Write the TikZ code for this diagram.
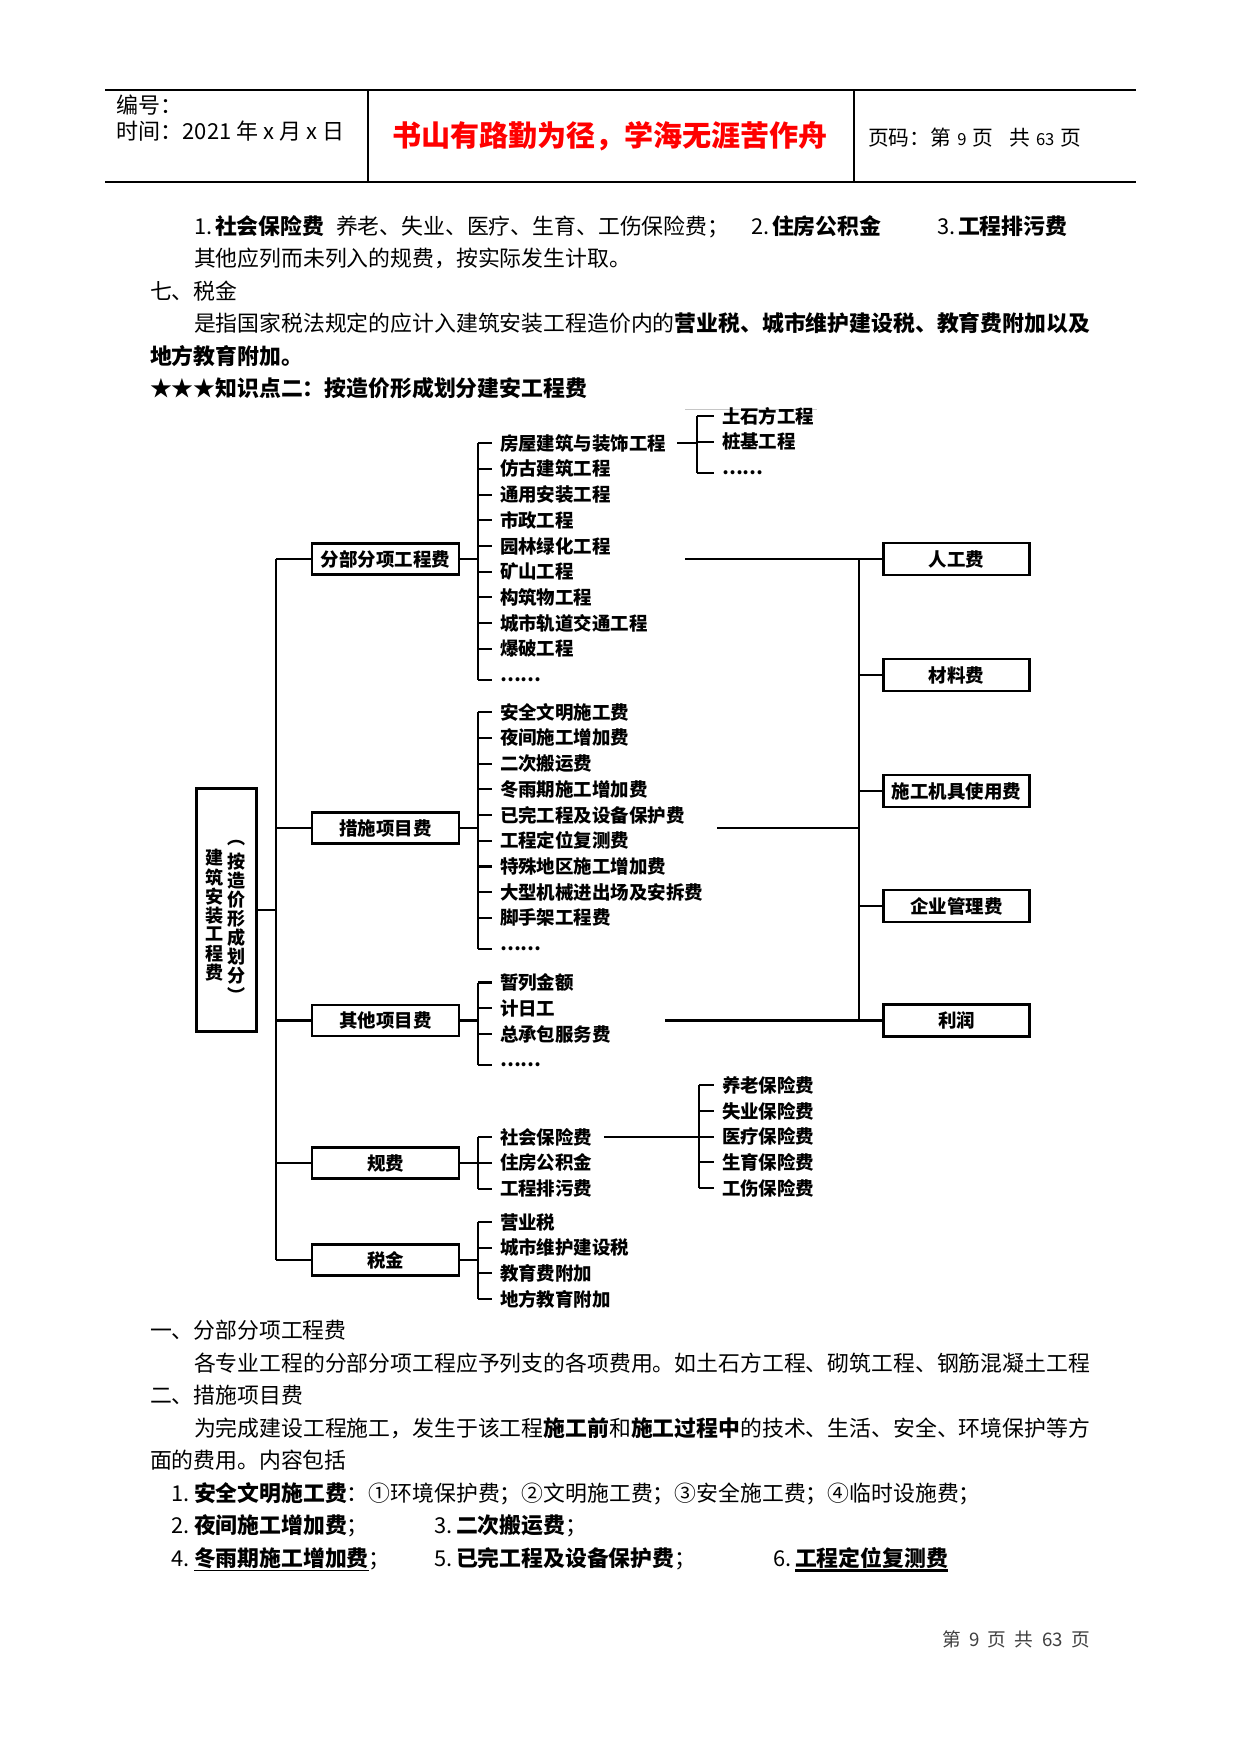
\documentclass[tikz,border=0pt]{standalone}
\usepackage{fontspec}
\setmainfont{Noto Sans CJK SC}
\newcommand\itemgroup[5]{%
  \coordinate (#1b) at (#2,#4);
  \foreach \t [count=\i from 0] in {#5} {
    \node[item] (#1\i) at (#3,{#4+25.74*\i}) {\t};
    \draw[ln] (#1b |- #1\i.west) -- ([xshift=-3.9pt]#1\i.west);
  }%
}
\begin{document}
\begin{tikzpicture}[x=0.4818pt,y=-0.4818pt,
  every node/.style={inner sep=0pt,outer sep=0pt},
  bodyfont/.style={font=\fontsize{10.53pt}{13pt}\selectfont},
  body/.style={bodyfont,anchor=base west,yshift=-4.0pt},
  hd/.style={anchor=base west,yshift=-4.0pt,font=\fontsize{10.6pt}{13pt}\selectfont},
  item/.style={anchor=base west,yshift=-3.4pt,font=\fontsize{8.9pt}{10pt}\selectfont\bfseries},
  vch/.style={font=\fontsize{8.7pt}{10pt}\selectfont\bfseries},
  ln/.style={line width=1pt},
  hl/.style={line width=0.8pt},
  box/.style={draw,line width=1.2pt,font=\fontsize{8.9pt}{10pt}\selectfont\bfseries},
  catbox/.style={box,minimum width=70.8pt,minimum height=15pt},
  rbox/.style={box,minimum width=70.3pt,minimum height=15.4pt},
]
\fill[white] (0,0) rectangle (1241,1755);
\useasboundingbox (0,0) rectangle (1241,1755);

% ---------- header ----------
\draw[hl] (105,89.7) -- (1136,89.7);
\draw[hl] (105,182.3) -- (1136,182.3);
\draw[hl] (368,89.7) -- (368,182.3);
\draw[hl] (854,89.7) -- (854,182.3);
\node[hd] (bh) at (116.7,105) {编号：};
\node[hd] (sj) at (116.7,131.7) {时间：2021 年 x 月 x 日};
\node[font=\fontsize{14pt}{16pt}\selectfont\bfseries,text=red] (motto) at (610,136.5) {书山有路勤为径，学海无涯苦作舟};
\node[anchor=base west,yshift=-3.8pt,font=\fontsize{10pt}{12pt}\selectfont] (ym) at (868,138)
  {页码：第\hspace{0.3em}{\fontsize{8pt}{9pt}\selectfont 9}\hspace{0.3em}页\hspace{0.75em}共\hspace{0.3em}{\fontsize{8pt}{9pt}\selectfont 63}\hspace{0.3em}页};

% ---------- upper body text ----------
\node[body] (l1a) at (194,226) {1.};
\node[body] (l1b) at (215,226) {\bfseries 社会保险费};
\node[body] (l1c) at (336,226) {养老、失业、医疗、生育、工伤保险费；};
\node[body] (l1d) at (751,226) {2.};
\node[body] (l1e) at (772,226) {\bfseries 住房公积金};
\node[body] (l1f) at (937,226) {3.};
\node[body] (l1g) at (958,226) {\bfseries 工程排污费};
\node[body] (l2) at (194,258.5) {其他应列而未列入的规费，按实际发生计取。};
\node[body] (l3) at (150,291) {七、税金};
\node[body] (l4) at (194,323.4) {是指国家税法规定的应计入建筑安装工程造价内的\textbf{营业税、城市维护建设税、教育费附加以及}};
\node[body] (l5) at (150,355.8) {\bfseries 地方教育附加。};
\node[body] (l6) at (150,388.3) {\bfseries ★★★知识点二：按造价形成划分建安工程费};

% ---------- diagram ----------
\draw[gray!45,line width=0.4pt] (685,409) -- (817,409);

% main vertical box
\node[draw,line width=1.2pt,minimum width=28.9pt,minimum height=117pt] (main) at (226.5,910) {};
\foreach \c [count=\k from 0] in {建,筑,安,装,工,程,费}
  \node[vch] (mc\k) at (215,{858+19.1*\k}) {\c};
\foreach \c [count=\k from 0] in {︵,按,造,价,形,成,划,分,︶}
  \node[vch] (md\k) at (237,{843+19*\k}) {\c};

% category boxes
\node[catbox] (fA) at (385.5,559) {分部分项工程费};
\node[catbox] (fB) at (385.5,828) {措施项目费};
\node[catbox] (fC) at (385.5,1020.5) {其他项目费};
\node[catbox] (fD) at (385.5,1163) {规费};
\node[catbox] (fE) at (385.5,1260) {税金};

% trunk
\coordinate (T) at (276,559);
\draw[ln] (T) -- (T |- fE.west);
\foreach \f in {fA,fB,fC,fD,fE} \draw[ln] (T |- \f.west) -- (\f.west);
\draw[ln] (main.east) -- (main.east -| T);

% item groups
\itemgroup{a}{478}{500}{443}{房屋建筑与装饰工程,仿古建筑工程,通用安装工程,市政工程,园林绿化工程,矿山工程,构筑物工程,城市轨道交通工程,爆破工程,……}
\draw[ln] (ab) -- (ab |- a9.west);
\draw[ln] (fA.east) -- (fA.east -| ab);

\itemgroup{c}{478}{500}{712}{安全文明施工费,夜间施工增加费,二次搬运费,冬雨期施工增加费,已完工程及设备保护费,工程定位复测费,特殊地区施工增加费,大型机械进出场及安拆费,脚手架工程费,……}
\draw[ln] (cb) -- (cb |- c9.west);
\draw[ln] (fB.east) -- (fB.east -| cb);

\itemgroup{o}{478}{500}{982.5}{暂列金额,计日工,总承包服务费,……}
\draw[ln] (ob) -- (ob |- o3.west);
\draw[ln] (fC.east) -- (fC.east -| ob);

\itemgroup{g}{478}{500}{1137}{社会保险费,住房公积金,工程排污费}
\draw[ln] (gb) -- (gb |- g2.west);
\draw[ln] (fD.east) -- (fD.east -| gb);

\itemgroup{t}{478}{500}{1222}{营业税,城市维护建设税,教育费附加,地方教育附加}
\draw[ln] (tb) -- (tb |- t3.west);
\draw[ln] (fE.east) -- (fE.east -| tb);

% sub groups
\itemgroup{s}{697}{722}{416}{土石方工程,桩基工程,……}
\draw[ln] (sb) -- (sb |- s2.west);
\draw[ln] ([xshift=5.3pt]a0.east) -- (a0.east -| sb);

\itemgroup{i}{699}{722}{1085.3}{养老保险费,失业保险费,医疗保险费,生育保险费,工伤保险费}
\draw[ln] (ib) -- (ib |- i4.west);
\draw[ln] ([xshift=5.5pt]g0.east) -- (g0.east -| ib);

% right boxes
\node[rbox] (r1) at (956.5,559) {人工费};
\node[rbox] (r2) at (956.5,675) {材料费};
\node[rbox] (r3) at (956.5,791) {施工机具使用费};
\node[rbox] (r4) at (956.5,906) {企业管理费};
\node[rbox] (r5) at (956.5,1020.5) {利润};
\coordinate (R) at (859,559);
\draw[ln] (R) -- (R |- r5.west);
\foreach \r in {r1,r2,r3,r4,r5} \draw[ln] (R |- \r.west) -- (\r.west);
\coordinate (h1) at (685,559);
\coordinate (h2) at (717,828);
\coordinate (h3) at (665,1020.5);
\draw[ln] (h1) -- (h1 -| R);
\draw[ln] (h2) -- (h2 -| R);
\draw[ln] (h3) -- (h3 -| R);

% ---------- lower body text ----------
\node[body] (m1) at (150,1330.5) {一、分部分项工程费};
\node[body] (m2) at (194,1363) {各专业工程的分部分项工程应予列支的各项费用。如土石方工程、砌筑工程、钢筋混凝土工程};
\node[body] (m3) at (150,1395.4) {二、措施项目费};
\node[body] (m4) at (194,1427.9) {为完成建设工程施工，发生于该工程\textbf{施工前}和\textbf{施工过程中}的技术、生活、安全、环境保护等方};
\node[body] (m5) at (150,1460.3) {面的费用。内容包括};
\node[body] (n1a) at (171,1492.8) {1.};
\node[body] (n1b) at (194,1492.8) {\textbf{安全文明施工费}：①环境保护费；②文明施工费；③安全施工费；④临时设施费；};
\node[body] (n2a) at (171,1525.2) {2.};
\node[body] (n2b) at (194,1525.2) {\textbf{夜间施工增加费}；};
\node[body] (n3a) at (434,1525.2) {3.};
\node[body] (n3b) at (456,1525.2) {\textbf{二次搬运费}；};
\node[body] (n4a) at (171,1557.7) {4.};
\node[body] (n4b) at (194,1557.7) {\bfseries 冬雨期施工增加费};
\node[bodyfont,anchor=base west] (n4c) at (n4b.base east) {；};
\draw[line width=0.5pt] ([yshift=-2pt]n4b.base west) -- ([yshift=-2pt]n4b.base east);
\node[body] (n5a) at (434,1557.7) {5.};
\node[body] (n5b) at (456,1557.7) {\textbf{已完工程及设备保护费}；};
\node[body] (n6a) at (773,1557.7) {6.};
\node[body] (n6b) at (795,1557.7) {\bfseries 工程定位复测费};
\draw[line width=1.5pt] ([yshift=-2.2pt]n6b.base west) -- ([yshift=-2.2pt]n6b.base east);

% footer
\node[anchor=base west,yshift=-3.4pt,font=\fontsize{9pt}{10pt}\selectfont,text=black!75] (ft) at (942,1639)
  {第\hspace{0.45em}9\hspace{0.45em}页\hspace{0.45em}共\hspace{0.45em}63\hspace{0.45em}页};
\end{tikzpicture}
\end{document}
